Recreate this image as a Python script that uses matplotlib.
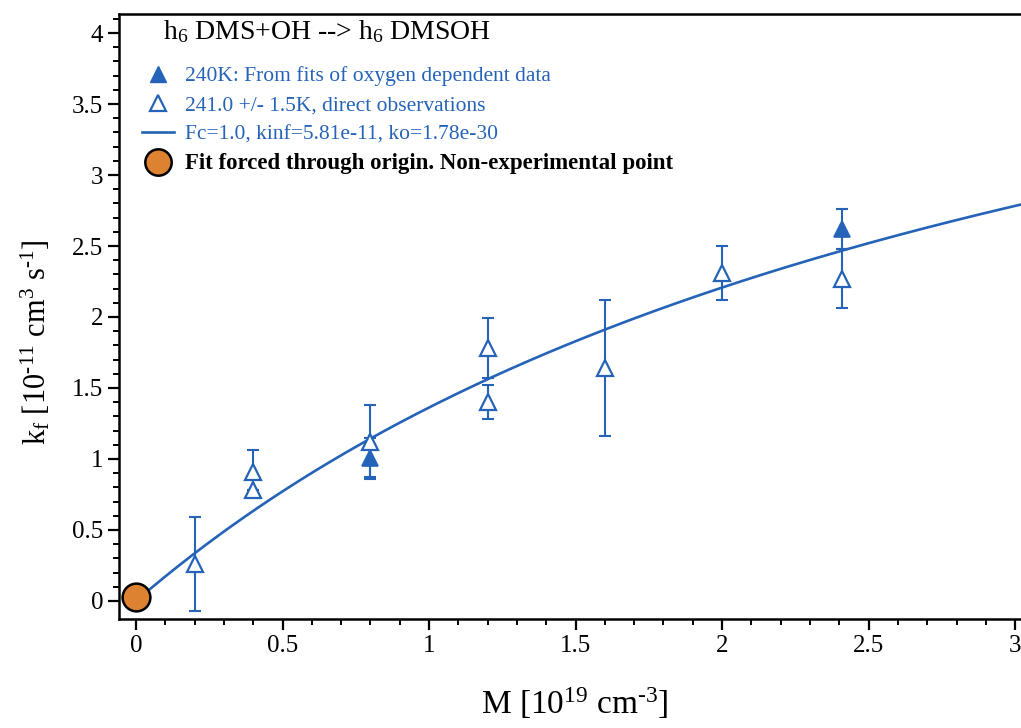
import numpy as np
import matplotlib
matplotlib.use("Agg")
import matplotlib.pyplot as plt
from matplotlib.lines import Line2D

plt.rcParams["font.family"] = ["Liberation Serif", "DejaVu Serif"]
plt.rcParams["mathtext.fontset"] = "custom"
plt.rcParams["mathtext.rm"] = "Liberation Serif"
plt.rcParams["mathtext.it"] = "Liberation Serif:italic"

# --- data (M in 1e19 cm^-3, k in 1e-11 cm^3 s^-1) ---
m_fit_240 = [0.8, 2.41]
k_fit_240 = [1.01, 2.62]
e_fit_240 = [0.14, 0.14]

m_direct = [0.2, 0.4, 0.4, 0.8, 1.2, 1.2, 1.6, 2.0, 2.41]
k_direct = [0.26, 0.905, 0.78, 1.12, 1.78, 1.40, 1.64, 2.31, 2.27]
e_direct = [0.33, 0.16, 0.0, 0.26, 0.21, 0.12, 0.48, 0.19, 0.21]

m_origin = [0.0]
k_origin = [0.03]

# Troe fit parameters from the legend
Fc, kinf, ko = 1.0, 5.81e-11, 1.78e-30

BLUE = "#2563b8"
ORANGE = "#dd8230"

fig = plt.figure(figsize=(10.21, 7.28), dpi=100)
ax = fig.add_axes([119/1021, 1-619/728, 1-119/1021, (619-14)/728])

M = np.linspace(0, 3.1, 200)
k0M = ko * M * 1e19
kcurve = k0M / (1 + k0M / kinf) * 1e11
ax.plot(M, kcurve, color=BLUE, lw=1.9, zorder=2)

ax.errorbar(m_direct, k_direct, yerr=e_direct, fmt="none", ecolor=BLUE,
            elinewidth=1.5, capsize=4.5, capthick=1.5, zorder=3)
ax.errorbar(m_fit_240, k_fit_240, yerr=e_fit_240, fmt="none", ecolor=BLUE,
            elinewidth=1.5, capsize=4.5, capthick=1.5, zorder=3)
ax.plot(m_direct, k_direct, ls="none", marker="^", ms=11, mfc="white",
        mec=BLUE, mew=1.6, zorder=4)
ax.plot(m_fit_240, k_fit_240, ls="none", marker="^", ms=11, mfc=BLUE,
        mec=BLUE, mew=1.2, zorder=5)
ax.plot(m_origin, k_origin, ls="none", marker="o", ms=20, mfc=ORANGE,
        mec="black", mew=1.8, zorder=6, clip_on=False)

ax.set_xlim(-0.058, 3.02)
ax.set_ylim(-0.127, 4.134)
ax.set_xticks(np.arange(0, 3.01, 0.5))
ax.set_xticklabels(["0", "0.5", "1", "1.5", "2", "2.5", "3"])
ax.set_yticks(np.arange(0, 4.01, 0.5))
ax.set_yticklabels(["0", "0.5", "1", "1.5", "2", "2.5", "3", "3.5", "4"])
ax.set_xticks(np.arange(0, 3.01, 0.1), minor=True)
ax.set_yticks(np.arange(0, 4.11, 0.1), minor=True)
ax.tick_params(which="major", direction="out", length=8, width=1.6,
               labelsize=18, pad=3.5, top=False, right=False)
ax.tick_params(which="minor", direction="out", length=4.5, width=1.4,
               top=False, right=False)
for s in ["left", "bottom", "top"]:
    ax.spines[s].set_linewidth(1.8)
ax.spines["right"].set_visible(False)

ax.set_xlabel(r"M [10$^{\rm 19}$ cm$^{\text{-3}}$]", fontsize=24)
ax.set_ylabel(r"k$_{\rm f}$ [10$^{\text{-11}}$ cm$^{\rm 3}$ s$^{\text{-1}}$]",
              fontsize=22)
ax.xaxis.set_label_coords((575-119)/(1021-119), -(703-619)/(619-14))
ax.yaxis.set_label_coords(-(119-36)/(1021-119), (619-342)/(619-14))
ax.xaxis.label.set_va("center")
ax.yaxis.label.set_va("center")

fig.text(163/1021, 1-32/728, r"h$_{\rm 6}$ DMS+OH --> h$_{\rm 6}$ DMSOH",
         fontsize=20, va="center", ha="left")

handles = [
    Line2D([], [], ls="none", marker="^", ms=11, mfc=BLUE, mec=BLUE),
    Line2D([], [], ls="none", marker="^", ms=11, mfc="white", mec=BLUE, mew=1.6),
    Line2D([], [], color=BLUE, lw=1.9),
    Line2D([], [], ls="none", marker="o", ms=19, mfc=ORANGE, mec="black", mew=1.8),
]
labels = ["240K: From fits of oxygen dependent data",
          "241.0 +/- 1.5K, direct observations",
          "Fc=1.0, kinf=5.81e-11, ko=1.78e-30",
          "Fit forced through origin. Non-experimental point"]
leg = fig.legend(handles, labels, loc="upper left",
                 bbox_to_anchor=(142/1021, 1-66/728), frameon=False,
                 fontsize=15.5, handlelength=1.5, handletextpad=0.48,
                 labelspacing=0.42, borderpad=0, borderaxespad=0)
for i, t in enumerate(leg.get_texts()):
    if i < 3:
        t.set_color(BLUE)
    else:
        t.set_fontweight("bold")
        t.set_fontsize(16.5)

fig.savefig("out.png", dpi=100)
